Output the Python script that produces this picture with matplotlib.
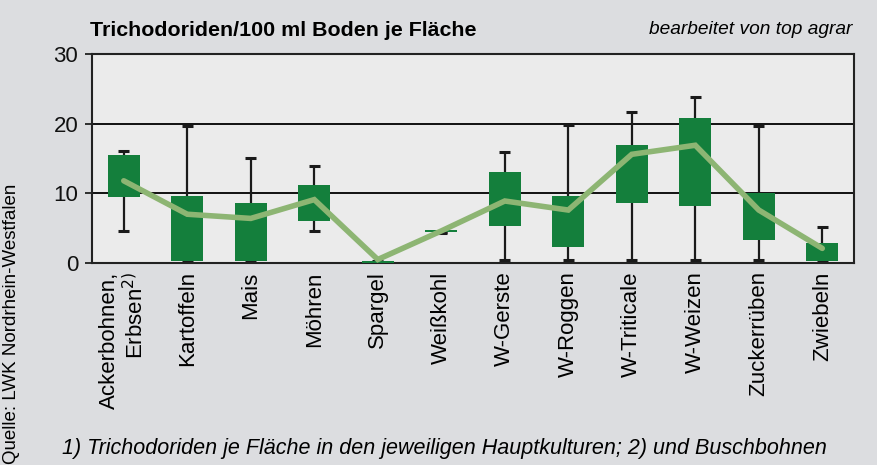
import matplotlib
matplotlib.use("Agg")
import matplotlib.pyplot as plt
import numpy as np

plt.rcParams['font.family'] = ['Liberation Sans', 'DejaVu Sans']

categories = ["Ackerbohnen,\nErbsen$^{2)}$", "Kartoffeln", "Mais", "Möhren", "Spargel", "Weißkohl",
              "W-Gerste", "W-Roggen", "W-Triticale", "W-Weizen", "Zuckerrüben", "Zwiebeln"]
whisker_low = [4.6, 0.3, 0.3, 4.6, 0.2, 4.3, 0.4, 0.4, 0.4, 0.4, 0.4, 0.3]
box_low     = [9.5, 0.3, 0.3, 6.0, 0.0, 4.4, 5.3, 2.3, 8.6, 8.2, 3.3, 0.3]
box_high    = [15.5, 9.6, 8.6, 11.2, 0.3, 4.7, 13.0, 9.6, 16.9, 20.8, 10.0, 2.8]
whisker_high = [16.1, 19.7, 15.1, 13.9, 0.3, 4.4, 16.0, 19.8, 21.7, 23.8, 19.7, 5.1]
mean_line   = [11.8, 7.0, 6.4, 9.1, 0.5, 4.6, 8.9, 7.6, 15.6, 16.9, 7.6, 2.1]
yticks = [0, 10, 20, 30]

fig = plt.figure(figsize=(8.78, 4.65), dpi=100, facecolor='#dcdde0')
ax = fig.add_axes([0.1048, 0.4344, 0.8679, 0.4495])
ax.set_facecolor('#ebebeb')

x = np.arange(len(categories))
green = '#147f3c'
ax.vlines(x, whisker_low, whisker_high, color='#1a1a1a', lw=1.6, zorder=2)
ax.hlines(whisker_high, x - 0.09, x + 0.09, color='#1a1a1a', lw=2.2, zorder=2)
ax.hlines(whisker_low, x - 0.09, x + 0.09, color='#1a1a1a', lw=2.2, zorder=2)
heights = np.array(box_high) - np.array(box_low)
heights = np.maximum(heights, 0.15)
ax.bar(x, heights, bottom=box_low, width=0.5, color=green, zorder=3)
ax.plot(x, mean_line, color='#8db573', lw=4, solid_capstyle='round', solid_joinstyle='miter', zorder=4)

for yv in [10, 20]:
    ax.axhline(yv, color='#111111', lw=1.4, zorder=1)

ax.set_xlim(-0.5, len(categories) - 0.5)
ax.set_ylim(0, 30)
ax.set_yticks(yticks)
ax.set_yticklabels([str(v) for v in yticks], fontsize=16)
ax.tick_params(axis='y', length=5, width=1.2, direction='out', pad=5, colors='#111111')
ax.set_xticks(x)
ax.set_xticklabels(categories, rotation=90, fontsize=16, va='top', ha='center', multialignment='right',
                   linespacing=1.15)
ax.tick_params(axis='x', length=0, pad=6)
for s in ax.spines.values():
    s.set_color('#222222')
    s.set_linewidth(1.5)

fig.text(90 / 878, 1 - 30 / 465, "Trichodoriden/100 ml Boden je Fläche", fontsize=15.4,
         fontweight='bold', ha='left', va='center')
fig.text(852 / 878, 1 - 30 / 465, "bearbeitet von top agrar", fontsize=13.8, style='italic',
         ha='right', va='center')
fig.text(62 / 878, 1 - 448 / 465,
         "1) Trichodoriden je Fläche in den jeweiligen Hauptkulturen; 2) und Buschbohnen",
         fontsize=15.5, style='italic', ha='left', va='center')
fig.text(12 / 878, 1 - 464 / 465, "Quelle: LWK Nordrhein-Westfalen", fontsize=13.5,
         rotation=90, ha='center', va='bottom')

fig.savefig("out.png", dpi=100, facecolor=fig.get_facecolor())
